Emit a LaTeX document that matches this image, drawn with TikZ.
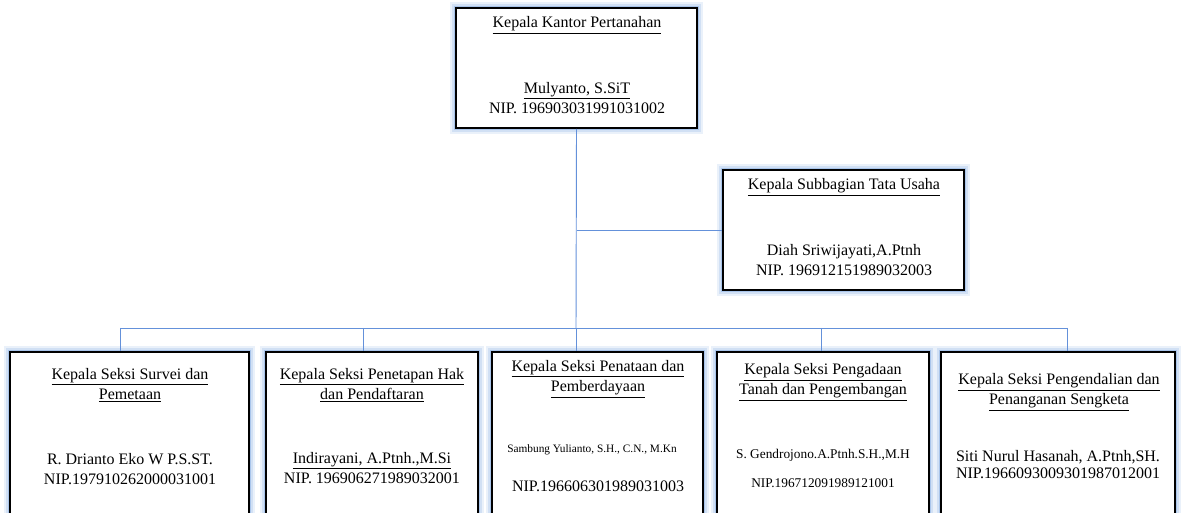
\documentclass[tikz,border=0pt]{standalone}
\usepackage{fontspec}
\setmainfont{Liberation Serif}
\usetikzlibrary{positioning}

\definecolor{garisbiru}{RGB}{100,145,218}
\definecolor{cahaya}{RGB}{140,178,228}

\tikzset{
  kotak/.style 2 args = {shape=rectangle, draw=black, line width=1.4pt,
    fill=white, inner sep=0pt,
    minimum width=#1*0.75pt, minimum height=#2*0.75pt,
    preaction={draw=cahaya!18, line width=9pt},
    preaction={draw=cahaya!40, line width=6pt},
    preaction={draw=cahaya!75, line width=3pt}},
  judul/.style = {align=center, inner sep=0pt,
    font=\fontsize{12}{15}\selectfont},
  isi/.style = {align=center, inner sep=0pt,
    font=\fontsize{12}{15}\selectfont},
  garis/.style = {draw=garisbiru, line width=0.7pt}
}

\begin{document}
\begin{tikzpicture}[x=0.75pt, y=-0.75pt]
  \useasboundingbox (0,0) rectangle (1182,513);
  \clip (0,0) rectangle (1182,513);

  % kotak jabatan
  \node[kotak={241}{120}] (kakan)  at (576.5,68) {};
  \node[kotak={241}{120}] (subbag) at (843.5,230) {};
  \node[kotak={239}{180}] (s1) at (129.5,442) {};
  \node[kotak={212}{180}] (s2) at (372,442) {};
  \node[kotak={211}{180}] (s3) at (597.5,442) {};
  \node[kotak={212}{180}] (s4) at (823,442) {};
  \node[kotak={234}{180}] (s5) at (1058,442) {};

  % garis penghubung
  \coordinate (pusat) at (576,328);
  \coordinate (kiri)  at (120,328);
  \coordinate (kanan) at (1067,328);
  \draw[garis] (kakan.south) -- (pusat);
  \draw[garis] (kakan.south |- subbag.west) -- (subbag.west);
  \draw[garis] (kiri) -- (kanan);
  \foreach \x/\b in {120/s1, 363/s2, 576/s3, 821/s4, 1067/s5} {
    \coordinate (d\b) at (\x,328);
    \draw[garis] (d\b) -- (d\b |- \b.north);
  }

  % isi kotak
  \node[judul] (jKakan) at (577,25) {\underline{Kepala Kantor Pertanahan}};
  \node[isi] (nKakan) at (577,98) {\underline{Mulyanto, S.SiT}\\NIP. 196903031991031002};

  \node[judul] (jSubbag) at (844,187) {\underline{Kepala Subbagian Tata Usaha}};
  \node[isi] (nSubbag) at (844,260) {Diah Sriwijayati,A.Ptnh\\NIP. 196912151989032003};

  \node[judul] (j1) at (130,385) {\underline{Kepala Seksi Survei dan}\\\underline{Pemetaan}};
  \node[isi] (n1) at (130,469.5) {R. Drianto Eko W P.S.ST.\\NIP.197910262000031001};

  \node[judul] (j2) at (372,385) {\underline{Kepala Seksi Penetapan Hak}\\\underline{dan Pendaftaran}};
  \node[isi] (n2) at (372,468) {\underline{Indirayani, A.Ptnh.,M.Si}\\NIP. 196906271989032001};

  \node[judul] (j3) at (598,379) {\underline{Kepala Seksi Penataan dan}\\\underline{Pemberdayaan}};
  \node[isi, font=\fontsize{8.5}{10}\selectfont] (n3) at (592,450) {Sambung Yulianto, S.H., C.N., M.Kn};
  \node[isi] (p3) at (598,486) {NIP.196606301989031003};

  \node[judul] (j4) at (823,382.5) {\underline{Kepala Seksi Pengadaan}\\\underline{Tanah dan Pengembangan}};
  \node[isi, font=\fontsize{10}{12}\selectfont] (n4) at (823,455) {S. Gendrojono.A.Ptnh.S.H.,M.H};
  \node[isi, font=\fontsize{10}{12}\selectfont] (p4) at (823,483) {NIP.196712091989121001};

  \node[judul] (j5) at (1059,392) {\underline{Kepala Seksi Pengendalian dan}\\\underline{Penanganan Sengketa}};
  \node[isi, font=\fontsize{12}{13}\selectfont] (n5) at (1058,464.5) {Siti Nurul Hasanah, A.Ptnh,SH.\\NIP.1966093009301987012001};
\end{tikzpicture}
\end{document}
